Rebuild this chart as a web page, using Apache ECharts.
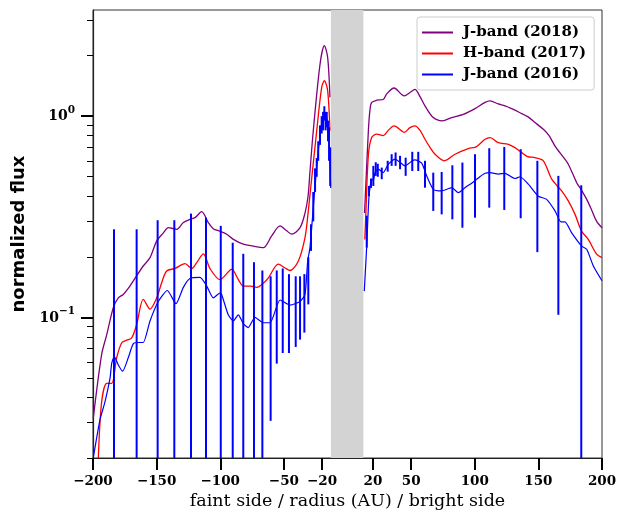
<!DOCTYPE html>
<html><head><meta charset="utf-8">
<script src="https://cdn.jsdelivr.net/npm/echarts@6/dist/echarts.min.js"></script>
<style>html,body{margin:0;padding:0;background:#fff}#c{width:632px;height:511px}</style>
</head><body><div id="c"></div>
<script>
// ---- data (x in AU, y = normalized flux) ----
const jband2018Left = [[-199.8,0.0315],[-193.2,0.0655],[-189.2,0.082],[-184.0,0.112],[-180.1,0.125],[-176.2,0.130],[-172.0,0.140],[-168.3,0.152],[-160.5,0.180],[-155.2,0.198],[-149.9,0.240],[-144.7,0.263],[-140.8,0.279],[-134.2,0.274],[-129.0,0.296],[-123.8,0.307],[-119.8,0.313],[-114.6,0.335],[-109.4,0.296],[-105.5,0.276],[-100.2,0.268],[-94.9,0.259],[-89.7,0.244],[-81.9,0.231],[-74.0,0.226],[-66.2,0.222],[-59.6,0.254],[-53.0,0.285],[-48.0,0.270],[-43.9,0.259],[-37.3,0.279],[-33.4,0.330],[-31.0,0.400],[-29.5,0.530],[-26.9,0.845],[-21.6,1.81],[-18.2,2.24],[-15.6,1.96],[-13.8,1.24]];
const jband2018Right = [[13.4,0.33],[16.4,0.845],[17.7,1.08],[19.0,1.17],[23.0,1.20],[28.1,1.21],[30.8,1.29],[36.6,1.38],[42.6,1.28],[44.6,1.26],[49.1,1.31],[53.0,1.36],[57.0,1.25],[60.9,1.125],[67.4,0.984],[74.5,0.948],[81.9,0.984],[91.0,1.02],[100.2,1.09],[108.1,1.17],[112.0,1.19],[118.5,1.15],[123.8,1.125],[129.0,1.09],[135.6,1.04],[141.6,0.995],[147.3,0.93],[153.9,0.86],[158.4,0.80],[163.1,0.71],[167.8,0.647],[173.5,0.577],[180.1,0.467],[183.5,0.433],[188.0,0.386],[192.0,0.340],[195.8,0.300],[200.0,0.279]];
const hband2017Left = [[-195.8,0.020],[-193.2,0.038],[-189.2,0.047],[-185.3,0.047],[-181.4,0.063],[-177.4,0.0748],[-173.5,0.077],[-169.6,0.079],[-165.7,0.092],[-160.5,0.123],[-155.2,0.110],[-149.9,0.125],[-146.0,0.149],[-142.1,0.170],[-135.6,0.175],[-127.7,0.185],[-122.4,0.175],[-118.5,0.187],[-113.3,0.207],[-108.1,0.175],[-100.2,0.154],[-91.0,0.173],[-86.0,0.155],[-81.9,0.143],[-76.0,0.143],[-71.4,0.141],[-66.0,0.148],[-62.2,0.157],[-54.4,0.184],[-49.0,0.176],[-45.2,0.171],[-38.7,0.190],[-33.4,0.249],[-30.8,0.338],[-29.5,0.406],[-24.2,0.845],[-20.3,1.39],[-18.2,1.50],[-15.6,1.34],[-13.8,0.845]];
const hband2017Right = [[13.6,0.244],[14.5,0.338],[16.4,0.64],[19.0,0.783],[23.0,0.814],[28.1,0.80],[32.0,0.85],[36.6,0.895],[42.6,0.845],[44.6,0.83],[49.1,0.877],[53.0,0.895],[57.0,0.85],[60.9,0.768],[64.8,0.70],[68.8,0.647],[76.1,0.60],[84.5,0.647],[94.9,0.69],[100.2,0.70],[102.8,0.717],[108.1,0.768],[112.0,0.783],[118.5,0.739],[126.4,0.725],[131.6,0.698],[136.9,0.659],[141.6,0.630],[147.3,0.622],[153.9,0.600],[160.5,0.486],[168.3,0.425],[173.5,0.379],[178.8,0.325],[184.0,0.268],[189.2,0.244],[195.8,0.206],[200.0,0.198]];
const jband2016Left = [[-199.8,0.020],[-194.5,0.031],[-190.6,0.038],[-186.6,0.050],[-185.3,0.059],[-183.3,0.064],[-180.1,0.058],[-176.7,0.054],[-172.3,0.063],[-168.3,0.074],[-164.0,0.075],[-160.5,0.075],[-155.2,0.096],[-148.7,0.120],[-141.6,0.136],[-134.8,0.117],[-129.0,0.141],[-123.8,0.156],[-115.9,0.158],[-110.6,0.143],[-105.5,0.125],[-100.2,0.132],[-98.9,0.130],[-93.7,0.103],[-89.7,0.096],[-85.8,0.103],[-81.9,0.093],[-78.0,0.089],[-72.7,0.100],[-66.2,0.094],[-60.9,0.094],[-53.0,0.122],[-45.2,0.115],[-37.3,0.120],[-33.4,0.130],[-31.3,0.190],[-29.5,0.222],[-26.9,0.350],[-25.5,0.45],[-24.2,0.56],[-23.0,0.672],[-21.6,0.80],[-20.3,0.912],[-19.2,0.95],[-18.2,1.06],[-17.2,0.95],[-16.3,0.984],[-15.3,0.85],[-14.5,0.783],[-13.2,0.44]];
const jband2016Right = [[13.2,0.135],[15.1,0.226],[16.9,0.400],[19.0,0.486],[20.3,0.480],[21.6,0.524],[24.2,0.545],[28.1,0.524],[32.1,0.577],[37.3,0.611],[41.3,0.590],[45.2,0.566],[50.9,0.600],[53.0,0.606],[58.3,0.584],[62.2,0.505],[67.4,0.433],[74.0,0.425],[81.9,0.441],[87.1,0.417],[92.3,0.441],[98.9,0.471],[104.0,0.500],[108.1,0.520],[112.0,0.524],[118.5,0.515],[123.8,0.520],[131.6,0.490],[135.6,0.500],[142.1,0.459],[150.0,0.400],[156.5,0.386],[163.1,0.338],[167.8,0.298],[170.9,0.298],[176.2,0.263],[184.0,0.226],[188.0,0.218],[193.2,0.180],[200.0,0.152]];
// error bars of J-band (2016): [x, low, high]
const jband2016Err = [[-183.5,0.02,0.274],[-165.7,0.02,0.274],[-149.2,0.02,0.304],[-136.1,0.02,0.304],[-123.0,0.02,0.328],[-111.2,0.02,0.313],[-99.6,0.02,0.285],[-90.2,0.02,0.235],[-81.9,0.02,0.207],[-73.5,0.02,0.188],[-66.9,0.02,0.171],[-60.4,0.0306,0.160],[-55.6,0.0589,0.171],[-50.9,0.0665,0.175],[-46.0,0.0665,0.164],[-40.7,0.0713,0.160],[-37.3,0.0775,0.160],[-33.9,0.084,0.164],[-30.8,0.116,0.199],[-28.7,0.214,0.290],
[-26.9,0.30,0.42],[-25.5,0.42,0.55],[-24.2,0.50,0.62],[-23.0,0.60,0.75],[-21.6,0.72,0.90],[-20.3,0.82,1.00],[-19.2,0.85,1.05],[-18.2,0.95,1.12],[-17.2,0.85,1.05],[-16.3,0.88,1.05],[-15.3,0.75,0.95],[-14.5,0.60,0.88],[-13.6,0.45,0.70],
[15.1,0.222,0.32],[16.9,0.40,0.45],[18.5,0.44,0.49],[20.3,0.45,0.566],[22.2,0.505,0.59],[23.8,0.50,0.58],[26.9,0.486,0.555],[31.6,0.53,0.60],[34.7,0.566,0.647],[37.8,0.566,0.66],[41.3,0.545,0.635],[45.7,0.505,0.622],[50.9,0.534,0.665],[55.6,0.534,0.665],[60.9,0.441,0.60],[67.4,0.338,0.524],[74.0,0.325,0.528],[82.4,0.307,0.57],[90.3,0.279,0.588],[100.2,0.313,0.647],[111.4,0.351,0.693],[123.2,0.342,0.703],[136.1,0.311,0.685],[149.2,0.211,0.60],[165.7,0.103,0.505],[183.7,0.02,0.454]];
const maskedRegion = [-13, 12.5];
const xTicks = [-200,-150,-100,-50,-20,20,50,100,150,200];
const yMajorTicks = [0.1, 1];
const yMinorTicks = [0.02,0.03,0.04,0.05,0.06,0.07,0.08,0.09,0.2,0.3,0.4,0.5,0.6,0.7,0.8,0.9,2,3];
const yMin = 0.02, yMax = 3.37;
const seriesNames = ['J-band (2018)','H-band (2017)','J-band (2016)'];
const colors = ['#800080','#ff0000','#0000ff'];

const GAP = [0, '-'];
const lg = Math.log10;
const serif = 'DejaVu Serif';
const chart = echarts.init(document.getElementById('c'), null, {renderer:'canvas'});
function yLab(v){ const e = Math.round(v); return '{b|10}{s|' + String(e).replace('-','\u2212') + '}'; }

function lineSeries(i, left, right, extra){
  return Object.assign({
    name: seriesNames[i], type:'line', xAxisIndex:0, yAxisIndex:0,
    data: left.concat([GAP], right), showSymbol:false, symbol:'none',
    smooth:0.3, connectNulls:false, color: colors[i],
    lineStyle:{color:colors[i], width:1.3}, z:3
  }, extra||{});
}

chart.setOption({
  animation:false,
  backgroundColor:'#fff',
  grid:{left:93, right:30, top:10, bottom:53, containLabel:false, outerBoundsMode:'none',
    show:true, borderColor:'#333', borderWidth:1, backgroundColor:'transparent'},
  legend:{
    data:seriesNames, orient:'vertical', left:417, top:17, padding:[7,8,7,5],
    itemWidth:31, itemHeight:2, itemGap:4, icon:'rect',
    borderColor:'#cccccc', borderWidth:1, borderRadius:3, backgroundColor:'rgba(255,255,255,0.85)',
    textStyle:{fontFamily:serif, fontWeight:'bold', fontSize:15, lineHeight:17, color:'#000', padding:[0,0,0,5]}
  },
  xAxis:[{
    type:'value', min:-200, max:200,
    axisLine:{show:true, onZero:false, lineStyle:{color:'#222', width:1.2}},
    axisTick:{show:true, customValues:xTicks, length:12, lineStyle:{color:'#000', width:2}},
    axisLabel:{customValues:xTicks, margin:16, fontFamily:serif, fontWeight:'bold', fontSize:13.5, color:'#000',
      formatter:v=>String(v).replace('-','\u2212')},
    splitLine:{show:false},
    name:'faint side / radius (AU) / bright side', nameLocation:'middle', nameGap:33,
    nameTextStyle:{fontFamily:serif, fontSize:17.5, color:'#000'}
  }],
  yAxis:[{
    type:'log', logBase:10, min:yMin, max:yMax, position:'left',
    axisLine:{show:false}, axisTick:{show:false}, axisLabel:{show:false}, splitLine:{show:false}
  },{
    type:'value', min:lg(yMin), max:lg(yMax), position:'left',
    axisLine:{show:true, onZero:false, lineStyle:{color:'#222', width:1.2}},
    axisTick:{show:true, customValues:yMajorTicks.map(lg), length:12, lineStyle:{color:'#000', width:2}},
    axisLabel:{customValues:yMajorTicks.map(lg), margin:18, color:'#000', formatter:yLab,
      rich:{
        b:{fontFamily:serif, fontWeight:'bold', fontSize:14, color:'#000', verticalAlign:'top', padding:[5,0,4,0]},
        s:{fontFamily:serif, fontWeight:'bold', fontSize:10.5, color:'#000', verticalAlign:'top'}
      }},
    splitLine:{show:false},
    name:'normalized flux', nameLocation:'middle', nameGap:57,
    nameTextStyle:{fontFamily:'DejaVu Sans', fontWeight:'bold', fontSize:18, color:'#000'}
  },{
    type:'value', min:lg(yMin), max:lg(yMax), position:'left',
    axisLine:{show:false},
    axisTick:{show:true, customValues:yMinorTicks.map(lg), length:6, lineStyle:{color:'#000', width:1}},
    axisLabel:{show:false}, splitLine:{show:false}
  }],
  series:[
    lineSeries(0, jband2018Left, jband2018Right, {
      markArea:{silent:true, itemStyle:{color:'#d3d3d3', opacity:1}, data:[[{xAxis:maskedRegion[0]},{xAxis:maskedRegion[1]}]]}
    }),
    lineSeries(1, hband2017Left, hband2017Right),
    lineSeries(2, jband2016Left, jband2016Right, {smooth:0.2, lineStyle:{color:colors[2], width:1.2}}),
    {
      type:'custom', name:'J-band (2016) errors', xAxisIndex:0, yAxisIndex:0, z:4,
      data:jband2016Err, encode:{x:0, y:[1,2]},
      renderItem:function(params, api){
        const x = api.value(0);
        const p1 = api.coord([x, api.value(1)]);
        const p2 = api.coord([x, api.value(2)]);
        return {type:'line', shape:{x1:p1[0], y1:p1[1], x2:p2[0], y2:p2[1]}, style:{stroke:colors[2], lineWidth:2}};
      }
    }
  ]
});
</script></body></html>
